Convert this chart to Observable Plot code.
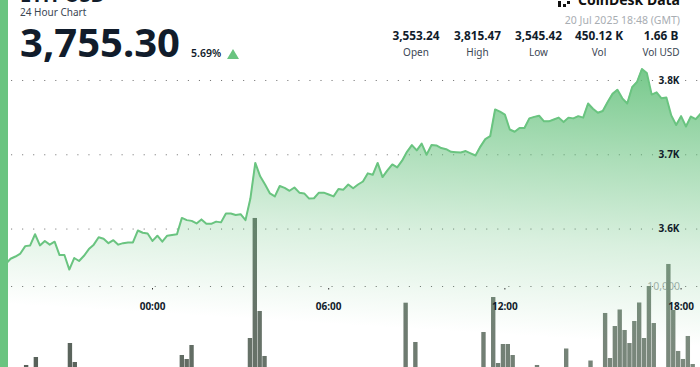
<!DOCTYPE html>
<html>
<head>
<meta charset="utf-8">
<script src="https://cdn.jsdelivr.net/npm/d3@7"></script>
<script src="https://cdn.jsdelivr.net/npm/@observablehq/plot@0.6"></script>
<style>
html,body{margin:0;padding:0;background:#fff;overflow:hidden}
#stage{position:relative;width:700px;height:367px;overflow:hidden;font-family:"Noto Sans",sans-serif;color:#111c2b}
#stage>.layer{position:absolute;left:0;top:0}
#stage svg{display:block;background:transparent}
.t{position:absolute;white-space:nowrap;line-height:1}
.c{transform:translateX(-50%)}
.r{transform:translateX(-100%)}
</style>
</head>
<body>
<div id="stage"></div>
<script>
// Price, one reading per 10 minutes, from 19:00 the day before (slot -30) to 18:40 (slot 112)
const priceStartSlot = -30;
const prices = [
3553,3560,3563,3567,3577,3578,3593,3578,3584,3579,3583,3565,3565,3545.42,3561,3557,3564,3573,3579,3589,
3587,3581,3585,3579,3581,3582,3582,3598,3595,3594,3584,3591,3583,3591,3592,3593,3615,3612,3611,3607.5,
3613,3607,3607,3610,3609,3621,3621,3619,3620,3612,3641,3689,3671,3660,3648,3644,3658,3655.5,3651.5,3656,
3649,3648,3641,3641.5,3649,3649,3646.5,3644,3654,3653,3660,3655,3660,3664,3675,3673,3689,3670,3679,3687,
3683,3692,3704,3713,3706,3715,3700,3713,3712.5,3709,3707.5,3704,3703.5,3703,3705,3702,3699,3711,3721,3725,
3761,3758,3754,3734,3731,3736,3736,3749,3751,3752.5,3745,3745,3747.5,3750,3744,3750,3749,3752,3750,3769,
3762,3756.5,3759,3771,3782,3787.5,3776,3769,3791,3798,3815.47,3810,3781,3784,3776,3777,3753,3740,3752,3738,
3751.5,3748,3755.3
];
// Volume bars
const volumeSlots = [-26,-24,-17,-16,6,7,8,20,21,22,23,52,54,68,70,71,72,73,74,79,85,90,93,94,95,96,97,98,99,100,101,102,103,106,107,108,109,110,111];
const volumes = [250,1235,2964,618,1482,988,2717,3580,18400,6916,1360,7940,3088,4320,8640,494,2840,2840,1480,250,2285,800,6670,1110,5060,7100,4570,2960,5680,7965,3580,10000,5430,12720,7040,1980,990,3830,370];
// Axes
const priceTicks = [3600,3700,3800];
const priceTickLabels = ["3.6K","3.7K","3.8K"];
const volumeTicks = [10000];
const timeTicks = [0,360,720,1080];
const timeTickLabels = ["00:00","06:00","12:00","18:00"];
// Header
const headTitle = "ETH-USD";
const headSub = "24 Hour Chart";
const headPrice = "3,755.30";
const headChange = "5.69%";
const headDate = "20 Jul 2025 18:48 (GMT)";
const statValues = ["3,553.24","3,815.47","3,545.42","450.12 K","1.66 B"];
const statLabels = ["Open","High","Low","Vol","Vol USD"];

const W = 700, H = 367;
const ink = "#111c2b";
const green = "#6ac480";
const font = '"Noto Sans",sans-serif';
const timeDomain = [-310.6, 1119.7];

const priceRows = prices.map((p,i)=>({minute:(priceStartSlot+i)*10, price:p}));
const volumeRows = volumeSlots.map((s,i)=>({slot:s, volume:volumes[i]}));

function gradientDefs(id, attrs, stops){
  return () => {
    const svg = d3.create("svg:g");
    const g = svg.append("defs").append("linearGradient").attr("id",id).attr("gradientUnits","userSpaceOnUse");
    for (const k in attrs) g.attr(k,attrs[k]);
    for (const s of stops) g.append("stop").attr("offset",s[0]).attr("stop-color",s[1]).attr("stop-opacity",s[2]);
    return svg.node();
  };
}

// Volume layer
const volumePlot = Plot.plot({
  width:W, height:H, margin:0, style:{background:"transparent",fontFamily:font},
  x:{type:"band",domain:d3.range(-31,113),range:[-0.39,699.75],paddingInner:0.1,paddingOuter:0,round:false,axis:null},
  y:{domain:[0,10000],range:[H,286],clamp:false,axis:null},
  marks:[
    gradientDefs("barFill",{x1:0,y1:0,x2:700,y2:0},[[0,"#565f58",1],[0.45,"#6a766c",1],[1,"#7c8a7e",1]]),
    Plot.gridY(volumeTicks,{stroke:"#777",strokeOpacity:1,strokeWidth:1,strokeDasharray:"1.1 9.95"}),
    Plot.axisY({ticks:volumeTicks,anchor:"right",tickSize:0,tickPadding:-20.5,textAnchor:"end",tickFormat:d3.format(","),fill:"#a9aeb0",fontSize:10.5,label:null}),
    Plot.barY(volumeRows,{x:"slot",y:"volume",fill:"url(#barFill)",clip:true})
  ]
});

// Price layer
const yDomain = [3413.6,3907.7];
const pricePlot = Plot.plot({
  width:W, height:H, margin:0, style:{background:"transparent",fontFamily:font},
  x:{domain:timeDomain,range:[0,W],axis:null},
  y:{domain:yDomain,range:[H,0],axis:null},
  marks:[
    gradientDefs("areaFill",{x1:641,y1:65,x2:624,y2:342},[[0,"#5fbf77",0.86],[0.3,"#5fbf77",0.56],[0.65,"#5fbf77",0.24],[1,"#5fbf77",0]]),
    Plot.gridY(priceTicks,{stroke:"#777",strokeOpacity:1,strokeWidth:1,strokeDasharray:"1.1 9.95"}),
    Plot.areaY(priceRows,{x:"minute",y1:yDomain[0],y2:"price",fill:"url(#areaFill)",curve:"linear"}),
    Plot.lineY(priceRows,{x:"minute",y:"price",stroke:green,strokeWidth:2,curve:"linear"}),
    Plot.axisY({ticks:priceTicks,anchor:"right",tickSize:0,tickPadding:-21,textAnchor:"end",tickFormat:d=>priceTickLabels[priceTicks.indexOf(d)],fill:ink,fontSize:10,fontWeight:700,label:null})
  ]
});

// Time axis layer
const timePlot = Plot.plot({
  width:W, height:H, marginTop:0, marginLeft:0, marginRight:0, marginBottom:H-288,
  style:{background:"transparent",fontFamily:font},
  x:{domain:timeDomain,range:[0,W],axis:null},
  y:{domain:[0,1],axis:null},
  marks:[
    Plot.axisX({ticks:timeTicks,anchor:"bottom",tickSize:1.5,tickPadding:13,stroke:"#333",tickFormat:d=>timeTickLabels[timeTicks.indexOf(d)],fill:ink,fontSize:10,fontWeight:700,label:null})
  ]
});

const stage = document.getElementById("stage");
for (const p of [volumePlot,pricePlot,timePlot]) {
  p.classList.add("layer");
  stage.appendChild(p);
}

// Header
function text(s,x,y,size,weight,color,cls){
  const d=document.createElement("div");
  d.className="t "+(cls||"");
  d.textContent=s;
  d.style.cssText+=`left:${x}px;top:${y}px;font-size:${size}px;font-weight:${weight};color:${color};`;
  stage.appendChild(d);
  return d;
}
function box(x,y,w,h,color){
  const d=document.createElement("div");
  d.style.cssText=`position:absolute;left:${x}px;top:${y}px;width:${w}px;height:${h}px;background:${color};`;
  stage.appendChild(d);
  return d;
}
box(0,0,7.5,H,green);
text(headTitle,20,-15,20,700,ink);
text(headSub,20,7,10,400,"#3b4654");
text(headPrice,20,22,40,700,ink);
text(headChange,191,47.5,10.5,600,ink);
const tri=box(227,49,0,0,"transparent");
tri.style.cssText+="border-left:6px solid transparent;border-right:6px solid transparent;border-bottom:10px solid "+green+";";
text("CoinDesk Data",680,-7.5,14,700,"#111","r");
box(558,1,3,6,"#111"); box(563,4,3,3,"#111"); box(567,1,2.5,2.5,"#111");
text(headDate,680,14.5,10.5,400,"#a8adb2","r");
const statX=[416,477.5,538.5,599,661];
statValues.forEach((v,i)=>{ text(v,statX[i],30,11.8,700,ink,"c"); text(statLabels[i],statX[i],46.5,10,400,"#3b4654","c"); });
</script>
</body>
</html>
